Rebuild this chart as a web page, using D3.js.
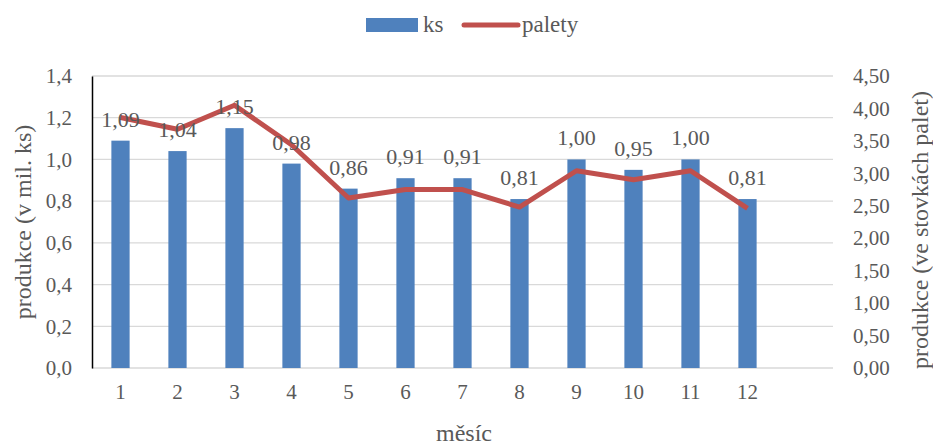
<!DOCTYPE html>
<html>
<head>
<meta charset="utf-8">
<script src="https://cdn.jsdelivr.net/npm/d3@7"></script>
<style>
  html, body { margin: 0; padding: 0; background: #fff; }
  text { font-family: "Liberation Serif", "Tinos", "Times New Roman", serif !important; }
</style>
</head>
<body>
<svg id="chart" width="933" height="446" font-family="Liberation Serif"></svg>
<script>
// Monthly production: pieces (millions) and pallets (hundreds)
const months = ["1", "2", "3", "4", "5", "6", "7", "8", "9", "10", "11", "12"];
const ksValues = [1.09, 1.04, 1.15, 0.98, 0.86, 0.91, 0.91, 0.81, 1.00, 0.95, 1.00, 0.81];
const paletyValues = [3.86, 3.68, 4.05, 3.44, 2.62, 2.75, 2.75, 2.48, 3.04, 2.90, 3.04, 2.46];
const leftTicks = [0, 0.2, 0.4, 0.6, 0.8, 1.0, 1.2, 1.4];
const rightTicks = [0, 0.5, 1.0, 1.5, 2.0, 2.5, 3.0, 3.5, 4.0, 4.5];

const seriesNames = ["ks", "palety"];
const xTitle = "měsíc";
const yLeftTitle = "produkce (v mil. ks)";
const yRightTitle = "produkce (ve stovkách palet)";

const colBar = "#4f81bd";
const colLine = "#c0504d";
const textCol = "#595959";

const svg = d3.select("#chart");
const plot = { left: 92, right: 833, top: 76, bottom: 368 };
const slot = (plot.right - plot.left) / 13; // one spare slot on the right

const x = d3.scaleBand()
  .domain(months)
  .range([plot.left, plot.left + slot * months.length])
  .paddingInner(0.68)
  .paddingOuter(0.34);

const yL = d3.scaleLinear().domain([0, 1.4]).range([plot.bottom, plot.top]);
const yR = d3.scaleLinear().domain([0, 4.5]).range([plot.bottom, plot.top]);

const fmt1 = v => d3.format(".1f")(v).replace(".", ",");
const fmt2 = v => d3.format(".2f")(v).replace(".", ",");

function label(sel, size) {
  return sel
    .style("font-family", '"Liberation Serif"')
    .style("font-size", size + "px")
    .attr("fill", textCol);
}

// gridlines
svg.append("g")
  .selectAll("line")
  .data(leftTicks)
  .join("line")
  .attr("x1", plot.left).attr("x2", plot.right)
  .attr("y1", d => yL(d)).attr("y2", d => yL(d))
  .attr("stroke", "#d9d9d9").attr("stroke-width", 1.3);

// left axis
const gL = svg.append("g")
  .attr("transform", `translate(${plot.left},0)`)
  .call(d3.axisLeft(yL).tickValues(leftTicks).tickFormat(fmt1).tickSize(0).tickPadding(20));
gL.attr("font-family", null);
gL.select(".domain").attr("stroke", "#000").attr("stroke-width", 1.5);
label(gL.selectAll("text"), 21);

// right axis
const gR = svg.append("g")
  .attr("transform", `translate(${plot.right},0)`)
  .call(d3.axisRight(yR).tickValues(rightTicks).tickFormat(fmt2).tickSize(0).tickPadding(20));
gR.attr("font-family", null);
gR.select(".domain").remove();
label(gR.selectAll("text"), 21);

// month labels
const gB = svg.append("g")
  .attr("transform", `translate(0,${plot.bottom})`)
  .call(d3.axisBottom(x).tickSize(0).tickPadding(16));
gB.attr("font-family", null);
gB.select(".domain").remove();
label(gB.selectAll("text"), 21);

// bars
svg.append("g")
  .selectAll("rect")
  .data(months.map((m, i) => ({ m, v: ksValues[i] })))
  .join("rect")
  .attr("x", d => x(d.m))
  .attr("width", x.bandwidth())
  .attr("y", d => yL(d.v))
  .attr("height", d => yL(0) - yL(d.v))
  .attr("fill", colBar);

// pallet line
const line = d3.line()
  .x((d, i) => x(months[i]) + x.bandwidth() / 2)
  .y(d => yR(d));
svg.append("path")
  .datum(paletyValues)
  .attr("d", line)
  .attr("fill", "none")
  .attr("stroke", colLine)
  .attr("stroke-width", 5)
  .attr("stroke-linejoin", "round");

// bar value labels
label(svg.append("g")
  .selectAll("text")
  .data(months.map((m, i) => ({ m, v: ksValues[i] })))
  .join("text")
  .attr("x", d => x(d.m) + x.bandwidth() / 2)
  .attr("y", d => yL(d.v) - 14)
  .attr("text-anchor", "middle")
  .text(d => fmt2(d.v)), 22);

// axis titles
label(svg.append("text")
  .attr("transform", `translate(464,441)`)
  .attr("text-anchor", "middle")
  .text(xTitle), 24);

label(svg.append("text")
  .attr("transform", `translate(31,${(plot.top + plot.bottom) / 2}) rotate(-90)`)
  .attr("text-anchor", "middle")
  .text(yLeftTitle), 24);

label(svg.append("text")
  .attr("transform", `translate(928,${(plot.top + plot.bottom) / 2 + 8}) rotate(-90)`)
  .attr("text-anchor", "middle")
  .text(yRightTitle), 24);

// legend
const lg = svg.append("g");
lg.append("rect").attr("x", 366).attr("y", 18).attr("width", 52).attr("height", 14).attr("fill", colBar);
label(lg.append("text").attr("x", 423).attr("y", 32).text(seriesNames[0]), 23);
lg.append("line").attr("x1", 464).attr("x2", 518).attr("y1", 25).attr("y2", 25)
  .attr("stroke", colLine).attr("stroke-width", 5).attr("stroke-linecap", "round");
label(lg.append("text").attr("x", 522).attr("y", 32).text(seriesNames[1]), 23);
</script>
</body>
</html>
